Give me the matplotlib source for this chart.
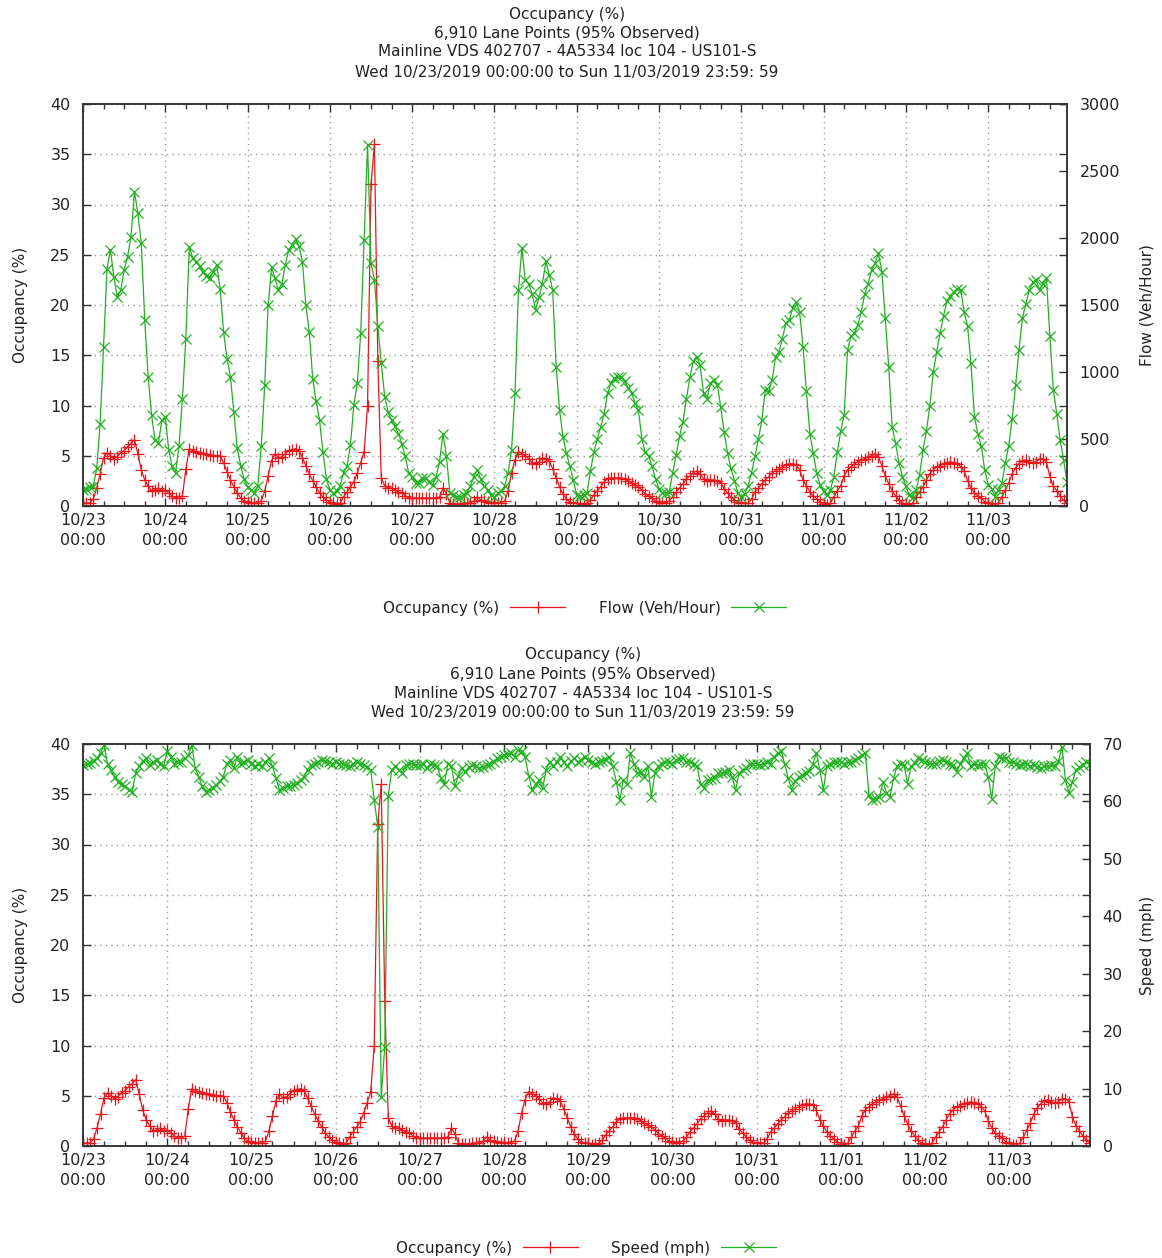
import numpy as np
import matplotlib
matplotlib.use('Agg')
import matplotlib.pyplot as plt
from matplotlib.ticker import MultipleLocator

# ---------------- data (hourly, 10/23/2019 00:00 .. 11/03/2019 23:00) ----------------
occ_1023 = [0.3, 0.3, 0.3, 0.7, 1.8, 3.2, 4.8, 5.3, 5.0, 4.7, 4.9, 5.3, 5.5, 5.9, 6.2, 6.6, 5.2, 3.6, 2.6, 2.0, 1.5, 1.6, 1.8, 1.5]
occ_1024 = [1.6, 1.3, 1.0, 0.8, 0.8, 1.0, 3.7, 5.7, 5.5, 5.4, 5.3, 5.2, 5.2, 5.1, 5.0, 5.0, 5.0, 4.3, 3.4, 2.6, 1.9, 1.3, 0.8, 0.5]
occ_1025 = [0.4, 0.3, 0.3, 0.3, 0.5, 1.5, 3.0, 4.5, 5.2, 4.8, 4.9, 5.2, 5.5, 5.6, 5.7, 5.5, 4.8, 4.0, 3.2, 2.5, 1.9, 1.3, 0.9, 0.6]
occ_1026 = [0.4, 0.3, 0.2, 0.3, 0.9, 1.4, 1.9, 2.4, 3.3, 4.3, 5.4, 10.0, 32.0, 36.0, 14.4, 2.8, 2.0, 1.8, 1.8, 1.6, 1.4, 1.3, 1.0, 0.8]
occ_1027 = [0.8, 0.8, 0.8, 0.8, 0.8, 0.8, 0.8, 0.8, 0.9, 1.8, 1.2, 0.3, 0.2, 0.2, 0.2, 0.3, 0.3, 0.3, 0.5, 0.9, 0.6, 0.5, 0.4, 0.3]
occ_1028 = [0.4, 0.3, 0.3, 0.5, 1.5, 3.3, 4.6, 5.4, 5.2, 5.0, 4.7, 4.3, 4.2, 4.4, 4.8, 4.7, 4.5, 3.7, 2.8, 1.9, 1.2, 0.7, 0.4, 0.3]
occ_1029 = [0.3, 0.1, 0.2, 0.3, 0.6, 1.1, 1.5, 1.9, 2.4, 2.7, 2.8, 2.8, 2.8, 2.8, 2.7, 2.5, 2.3, 2.1, 1.9, 1.6, 1.2, 1.0, 0.8, 0.5]
occ_1030 = [0.4, 0.3, 0.3, 0.5, 0.9, 1.4, 1.8, 2.2, 2.7, 3.0, 3.3, 3.5, 3.2, 2.7, 2.5, 2.6, 2.6, 2.5, 2.3, 1.7, 1.3, 0.9, 0.6, 0.4]
occ_1031 = [0.3, 0.3, 0.3, 0.7, 1.4, 1.8, 2.2, 2.6, 2.9, 3.3, 3.5, 3.7, 3.9, 4.1, 4.2, 4.2, 4.1, 3.6, 2.6, 2.0, 1.4, 1.0, 0.7, 0.4]
occ_1101 = [0.2, 0.1, 0.3, 0.9, 1.5, 2.0, 3.0, 3.6, 3.9, 4.2, 4.4, 4.6, 4.7, 4.9, 5.0, 5.2, 4.9, 4.0, 3.0, 2.2, 1.5, 1.0, 0.6, 0.3]
occ_1102 = [0.2, 0.1, 0.3, 0.9, 1.4, 1.9, 2.6, 3.2, 3.6, 3.9, 4.0, 4.2, 4.3, 4.4, 4.3, 4.2, 3.9, 3.5, 2.5, 1.8, 1.3, 1.0, 0.8, 0.4]
occ_1103 = [0.3, 0.1, 0.1, 0.3, 0.9, 1.6, 2.3, 3.2, 3.8, 4.2, 4.5, 4.6, 4.4, 4.3, 4.4, 4.7, 4.7, 4.4, 2.9, 2.0, 1.5, 1.0, 0.6, 0.3]

flow_1023 = [120, 130, 145, 150, 280, 615, 1190, 1770, 1910, 1710, 1560, 1610, 1760, 1860, 2010, 2345, 2185, 1960, 1390, 965, 680, 490, 470, 640]
flow_1024 = [665, 420, 295, 245, 450, 800, 1250, 1935, 1850, 1820, 1790, 1750, 1720, 1700, 1750, 1800, 1620, 1300, 1100, 965, 700, 430, 300, 200]
flow_1025 = [145, 120, 95, 150, 450, 900, 1500, 1780, 1700, 1610, 1660, 1800, 1910, 1950, 1990, 1940, 1820, 1500, 1300, 950, 780, 640, 400, 200]
flow_1026 = [120, 95, 110, 150, 250, 295, 455, 755, 915, 1290, 1985, 2695, 1810, 1690, 1340, 1065, 815, 700, 640, 600, 540, 465, 370, 245]
flow_1027 = [220, 170, 170, 210, 210, 180, 155, 220, 330, 540, 370, 100, 80, 70, 70, 80, 100, 150, 220, 270, 200, 150, 120, 80]
flow_1028 = [70, 95, 110, 150, 250, 420, 840, 1610, 1925, 1685, 1660, 1585, 1465, 1560, 1660, 1825, 1725, 1610, 1040, 715, 515, 395, 295, 195]
flow_1029 = [80, 75, 80, 95, 260, 400, 500, 590, 690, 840, 915, 955, 960, 965, 930, 880, 845, 770, 715, 500, 400, 370, 295, 200]
flow_1030 = [130, 95, 100, 105, 250, 380, 520, 630, 800, 960, 1080, 1115, 1050, 840, 800, 915, 940, 905, 740, 550, 395, 280, 190, 100]
flow_1031 = [70, 90, 150, 250, 370, 500, 640, 865, 855, 940, 1115, 1150, 1250, 1365, 1390, 1475, 1525, 1450, 1190, 855, 540, 395, 245, 155]
flow_1101 = [110, 80, 120, 220, 400, 560, 680, 1165, 1265, 1290, 1350, 1450, 1580, 1660, 1760, 1810, 1885, 1750, 1400, 1040, 590, 470, 320, 220]
flow_1102 = [150, 80, 70, 120, 230, 420, 560, 750, 1000, 1150, 1290, 1420, 1530, 1570, 1600, 1620, 1610, 1450, 1340, 1065, 665, 540, 445, 270]
flow_1103 = [160, 130, 70, 120, 170, 320, 450, 650, 900, 1165, 1400, 1510, 1610, 1670, 1685, 1610, 1660, 1700, 1265, 865, 690, 490, 345, 180]

spd_1023 = [66.3, 66.5, 66.7, 67.0, 67.5, 68.5, 69.8, 66.6, 65.5, 64.3, 63.4, 63.0, 62.6, 62.0, 61.7, 64.9, 66.1, 67.0, 67.5, 66.3, 66.9, 67.2, 66.5, 66.1]
spd_1024 = [68.7, 67.8, 66.6, 66.9, 66.9, 67.5, 68.0, 69.8, 65.8, 64.3, 62.6, 61.7, 62.0, 62.3, 62.9, 63.5, 64.3, 66.6, 67.2, 65.8, 67.8, 66.6, 66.9, 67.2]
spd_1025 = [66.6, 66.1, 66.6, 66.1, 66.8, 67.5, 66.1, 64.0, 62.0, 62.3, 62.6, 62.6, 62.9, 63.2, 63.7, 64.3, 65.5, 66.3, 66.6, 66.9, 67.2, 67.0, 66.8, 66.6]
spd_1026 = [66.9, 66.6, 66.6, 66.3, 66.1, 66.6, 66.9, 66.6, 66.3, 66.0, 65.5, 60.3, 55.6, 8.6, 17.3, 61.0, 65.5, 66.1, 65.5, 64.9, 66.3, 66.5, 66.6, 66.3]
spd_1027 = [66.4, 66.6, 65.8, 66.6, 66.3, 66.1, 64.0, 63.1, 66.6, 66.1, 62.6, 64.5, 65.8, 65.2, 66.0, 66.3, 66.1, 65.8, 66.0, 66.3, 66.6, 66.9, 67.5, 67.8]
spd_1028 = [68.0, 68.3, 68.4, 67.8, 69.0, 68.7, 67.8, 64.5, 62.0, 63.0, 63.7, 62.3, 65.5, 66.9, 66.1, 66.8, 67.8, 66.9, 66.1, 67.0, 67.5, 66.9, 67.2, 67.8]
spd_1029 = [67.2, 66.8, 66.6, 66.9, 67.0, 67.2, 67.8, 66.1, 63.4, 60.2, 63.7, 63.1, 68.4, 66.6, 64.9, 65.2, 64.3, 66.1, 60.8, 64.9, 66.1, 66.6, 66.9, 66.8]
spd_1030 = [66.6, 67.2, 67.4, 67.5, 66.9, 66.9, 66.5, 66.1, 63.1, 62.3, 63.7, 63.9, 64.0, 64.9, 65.0, 65.2, 65.5, 64.3, 62.0, 64.9, 65.5, 65.8, 66.6, 66.6]
spd_1031 = [66.6, 66.3, 66.5, 66.9, 66.6, 67.8, 68.4, 68.8, 66.5, 64.0, 62.0, 63.5, 64.3, 64.6, 64.9, 65.3, 66.5, 68.4, 65.5, 62.0, 66.1, 66.6, 66.8, 66.9]
spd_1101 = [66.9, 66.6, 66.8, 66.9, 67.2, 67.5, 68.0, 68.4, 61.1, 60.3, 60.5, 60.8, 63.4, 61.5, 60.8, 64.0, 66.1, 66.6, 66.4, 63.1, 66.1, 66.7, 67.5, 67.2]
spd_1102 = [66.9, 66.7, 66.6, 66.6, 67.0, 67.2, 66.9, 66.5, 66.3, 65.2, 66.5, 67.5, 68.4, 66.1, 66.6, 66.3, 66.5, 66.6, 64.3, 60.5, 66.1, 67.8, 67.6, 67.5]
spd_1103 = [66.9, 66.8, 66.6, 66.3, 66.5, 66.6, 66.1, 66.3, 66.0, 65.8, 66.1, 66.2, 66.3, 66.1, 67.0, 69.5, 63.7, 61.4, 63.4, 65.5, 66.0, 66.3, 66.9, 66.6]

day_labels = ['10/23', '10/24', '10/25', '10/26', '10/27', '10/28',
              '10/29', '10/30', '10/31', '11/01', '11/02', '11/03']

title_lines = ['Occupancy (%)',
               '6,910 Lane Points (95% Observed)',
               'Mainline VDS 402707 - 4A5334 loc 104 - US101-S',
               'Wed 10/23/2019 00:00:00 to Sun 11/03/2019 23:59: 59']

occupancy = np.concatenate([occ_1023, occ_1024, occ_1025, occ_1026, occ_1027, occ_1028,
                            occ_1029, occ_1030, occ_1031, occ_1101, occ_1102, occ_1103])
flow = np.concatenate([flow_1023, flow_1024, flow_1025, flow_1026, flow_1027, flow_1028,
                       flow_1029, flow_1030, flow_1031, flow_1101, flow_1102, flow_1103])
speed = np.concatenate([spd_1023, spd_1024, spd_1025, spd_1026, spd_1027, spd_1028,
                        spd_1029, spd_1030, spd_1031, spd_1101, spd_1102, spd_1103])
hours = np.arange(len(occupancy))

# ---------------- styling ----------------
RED = '#e8161b'
GREEN = '#21b021'
TXT = '#222222'
FS = 11
TFS = 11.5
W, H = 1162, 1258

plt.rcParams['font.family'] = ['DejaVu Sans']
fig = plt.figure(figsize=(W / 100, H / 100), dpi=100)


def axes_px(l, t, r, b):
    return fig.add_axes([l / W, 1 - b / H, (r - l) / W, (b - t) / H])


def panel(l, t, r, b, right_vals, right_max, right_step, right_label, right_name, title_x, title_ys,
          legend_xy):
    ax = axes_px(l, t, r, b)
    ax2 = ax.twinx()
    wpx = r - l
    l1, = ax.plot(hours, occupancy, color=RED, lw=0.9, marker='+', ms=8, mew=0.9, label='Occupancy (%)')
    l2, = ax2.plot(hours, right_vals, color=GREEN, lw=0.9, marker='x', ms=6.5, mew=0.9, label=right_name)
    ax.set_xlim(0, len(hours) - 1)
    ax.set_ylim(0, 40)
    ax2.set_ylim(0, right_max)
    ax.xaxis.set_minor_locator(MultipleLocator(6))
    ax.set_xticks(np.arange(len(day_labels)) * 24)
    ax.set_xticklabels([d + '\n00:00' for d in day_labels], linespacing=1.45)
    ax.yaxis.set_major_locator(MultipleLocator(5))
    ax2.yaxis.set_major_locator(MultipleLocator(right_step))
    ax.grid(True, which='major', color='#9a9a9a', linestyle=(0, (1, 3)), linewidth=1.0)
    ax.tick_params(axis='both', which='both', direction='in', top=True, right=True,
                   labelsize=TFS, labelcolor=TXT, colors='#333333')
    ax.tick_params(which='major', length=6, width=1)
    ax.tick_params(which='minor', length=3.5, width=1)
    ax.tick_params(axis='x', pad=5)
    ax.tick_params(axis='y', pad=9)
    ax2.tick_params(axis='y', direction='in', length=6, width=1, labelsize=TFS, labelcolor=TXT,
                    colors='#333333', pad=9)
    for a in (ax, ax2):
        for s in a.spines.values():
            s.set_linewidth(1.1)
            s.set_color('#333333')
    ax.set_ylabel('Occupancy (%)', fontsize=FS, color=TXT)
    ax.yaxis.set_label_coords((28 - l) / wpx, 0.5)
    ax2.set_ylabel(right_label, fontsize=FS, color=TXT)
    ax2.yaxis.set_label_coords((1140 - l) / wpx, 0.5)
    for line, y in zip(title_lines, title_ys):
        fig.text(title_x / W, 1 - y / H, line, ha='center', va='center', fontsize=FS, color=TXT)
    fig.legend(handles=[l1, l2], loc='center', bbox_to_anchor=(legend_xy[0] / W, 1 - legend_xy[1] / H),
               ncol=2, frameon=False, markerfirst=False, handlelength=3.6, handletextpad=0.7,
               columnspacing=2.2, fontsize=FS, numpoints=1, labelcolor=TXT)
    return ax, ax2


panel(83, 104, 1067, 506, flow, 3000, 500, 'Flow (Veh/Hour)', 'Flow (Veh/Hour)',
      567, [14, 33, 52, 72], (585, 608))
panel(83, 744, 1090, 1146, speed, 70, 10, 'Speed (mph)', 'Speed (mph)',
      583, [654, 674, 693, 713], (586, 1248))

fig.savefig('out.png', dpi=100)
